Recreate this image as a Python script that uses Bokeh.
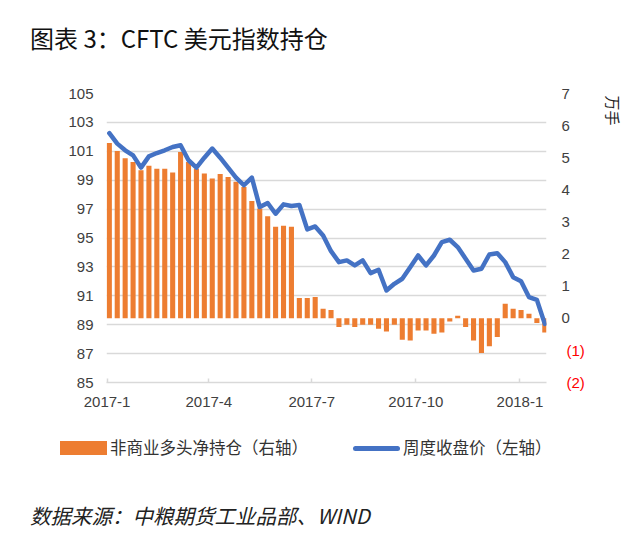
import math
import pandas as pd
from bokeh.plotting import figure
from bokeh.layouts import column
from bokeh.models import Range1d, LinearAxis, FixedTicker, ColumnDataSource, Div, Title
from bokeh.embed import file_html
from bokeh.resources import INLINE

# ---------------- data ----------------
start_date = "2017-01-03"
n_weeks = 56
net_long = [5.46, 5.21, 4.98, 4.87, 4.61, 4.75, 4.66, 4.66, 4.54, 5.18,
            4.87, 4.66, 4.51, 4.35, 4.49, 4.40, 4.25, 4.09, 3.65, 3.42,
            3.18, 2.85, 2.88, 2.85, 0.63, 0.63, 0.66, 0.30, 0.26, -0.27,
            -0.20, -0.27, -0.20, -0.20, -0.33, -0.41, -0.20, -0.67, -0.69, -0.38,
            -0.38, -0.48, -0.44, -0.10, 0.08, -0.27, -0.69, -1.08, -0.87, -0.58,
            0.45, 0.30, 0.26, 0.14, -0.15, -0.44]
close_price = [102.25, 101.53, 101.07, 100.72, 99.87, 100.65, 100.88, 101.07, 101.30, 101.42,
               100.38, 99.87, 100.56, 101.19, 100.56, 99.87, 99.18, 98.65, 99.18, 97.14,
               97.42, 96.68, 97.33, 97.21, 97.28, 95.60, 95.80, 95.18, 94.09, 93.33,
               93.45, 93.10, 93.45, 92.57, 92.80, 91.37, 91.83, 92.18, 92.98, 93.79,
               93.10, 93.79, 94.72, 94.88, 94.37, 93.57, 92.75, 92.87, 93.86, 93.95,
               93.33, 92.29, 92.01, 90.91, 90.72, 89.06]
tick_dates = ["2017-01-01", "2017-04-01", "2017-07-01", "2017-10-01", "2018-01-01"]
tick_labels = ["2017-1", "2017-4", "2017-7", "2017-10", "2018-1"]
left_ticks = list(range(85, 106, 2))
right_pos_ticks = [0, 1, 2, 3, 4, 5, 6, 7]
right_neg_ticks = [-2, -1]
right_neg_text = ["(2)", "(1)"]

title_text = "图表 3：CFTC 美元指数持仓"
bar_name = "非商业多头净持仓（右轴）"
line_name = "周度收盘价（左轴）"
unit_text = "万手"
source_text = "数据来源：中粮期货工业品部、WIND"

# ---------------- derived ----------------
origin = pd.Timestamp("2017-01-01")
dates = pd.date_range(start_date, periods=n_weeks, freq="7D")
xday = [(d - origin).days for d in dates]
tick_x = [(pd.Timestamp(t) - origin).days for t in tick_dates]

src = ColumnDataSource(dict(x=xday, net=net_long, price=close_price))

ORANGE = "#ED7D31"
BLUE = "#4472C4"
GRID = "#D9D9D9"
TXT = "#404040"
CJK = "Noto Sans CJK SC"
W = 640
TOP_H = 60
MAIN_H = 357
BOT_H = 557 - TOP_H - MAIN_H

# ---------------- title strip ----------------
top = Div(width=W, height=TOP_H, margin=(0, 0, 0, 0),
          text=(f'<div style="margin:0;padding:24px 0 0 30px;font-family:\'{CJK}\';'
                f'font-size:24px;line-height:28px;color:#111;white-space:nowrap;">'
                f'{title_text}</div>'))

# ---------------- main chart ----------------
p = figure(width=W, height=MAIN_H, output_backend="svg", toolbar_location=None,
           x_range=Range1d(-0.5, 388.5), y_range=Range1d(85, 105),
           min_border_left=106, min_border_right=93, min_border_top=93 - TOP_H,
           min_border_bottom=MAIN_H - (93 - TOP_H) - 289, outline_line_color=None)
p.extra_y_ranges = {"right": Range1d(-2, 7)}

bars = p.vbar(x="x", top="net", bottom=0, width=4.5, source=src,
              y_range_name="right", fill_color=ORANGE, line_color=None)
line = p.line(x="x", y="price", source=src, line_color=BLUE, line_width=4.5,
              line_join="round", line_cap="round")

p.xgrid.visible = False
p.ygrid.ticker = FixedTicker(ticks=left_ticks)
p.ygrid.grid_line_color = GRID
p.ygrid.grid_line_width = 1.5

ya = p.yaxis[0]
ya.ticker = FixedTicker(ticks=left_ticks)
ya.axis_line_color = None
ya.major_tick_line_color = None
ya.minor_tick_line_color = None
ya.major_tick_out = 0
ya.major_tick_in = 0
ya.major_label_standoff = 13
ya.major_label_text_font = "Liberation Sans"
ya.major_label_text_font_size = "15px"
ya.major_label_text_color = TXT

xa = p.xaxis[0]
xa.ticker = FixedTicker(ticks=tick_x)
xa.major_label_overrides = {t: l for t, l in zip(tick_x, tick_labels)}
xa.axis_line_color = GRID
xa.axis_line_width = 1.5
xa.major_tick_line_color = GRID
xa.major_tick_line_width = 1.5
xa.major_tick_in = 4
xa.major_tick_out = 0
xa.minor_tick_line_color = None
xa.major_label_standoff = 14
xa.major_label_text_font = "Liberation Sans"
xa.major_label_text_font_size = "15px"
xa.major_label_text_color = TXT

ra = LinearAxis(y_range_name="right", ticker=FixedTicker(ticks=right_pos_ticks))
ra.axis_line_color = None
ra.major_tick_line_color = None
ra.minor_tick_line_color = None
ra.major_tick_out = 0
ra.major_tick_in = 0
ra.major_label_standoff = 15
ra.major_label_text_font = "Liberation Sans"
ra.major_label_text_font_size = "15px"
ra.major_label_text_color = TXT
p.add_layout(ra, "right")

rn = LinearAxis(y_range_name="right", ticker=FixedTicker(ticks=right_neg_ticks))
rn.major_label_overrides = {t: s for t, s in zip(right_neg_ticks, right_neg_text)}
rn.axis_line_color = None
rn.major_tick_line_color = None
rn.minor_tick_line_color = None
rn.major_tick_out = 0
rn.major_tick_in = 0
rn.major_label_standoff = -6
rn.major_label_text_font = "Liberation Sans"
rn.major_label_text_font_size = "15px"
rn.major_label_text_color = "#FF0000"
p.add_layout(rn, "right")

# unit label, top of the right side
p.add_layout(Title(text=unit_text, align="left", offset=2, vertical_align="bottom",
                   standoff=30, text_font=CJK, text_font_size="15px",
                   text_font_style="normal", text_color="#222222"), "right")

# ---------------- legend + source strip ----------------
legend_html = (
    f'<div style="display:flex;align-items:center;height:20px;margin:21px 0 0 0;'
    f'padding-left:60px;font-family:\'{CJK}\';font-size:16.5px;color:#333;'
    f'white-space:nowrap;">'
    f'<span style="display:inline-block;width:47px;height:14px;background:{ORANGE};"></span>'
    f'<span style="margin-left:3px;">{bar_name}</span>'
    f'<span style="display:inline-block;width:47px;height:5px;border-radius:3px;'
    f'background:{BLUE};margin-left:45px;"></span>'
    f'<span style="margin-left:3px;">{line_name}</span></div>'
    f'<div style="margin:45px 0 0 0;padding-left:30px;font-family:\'{CJK}\';'
    f'font-size:20.5px;line-height:24px;font-style:italic;color:#222;white-space:nowrap;">'
    f'{source_text}</div>'
)
bot = Div(width=W, height=BOT_H, margin=(0, 0, 0, 0), text=legend_html)

layout = column(top, p, bot, spacing=0)
open("out.html", "w").write(file_html(layout, INLINE))
